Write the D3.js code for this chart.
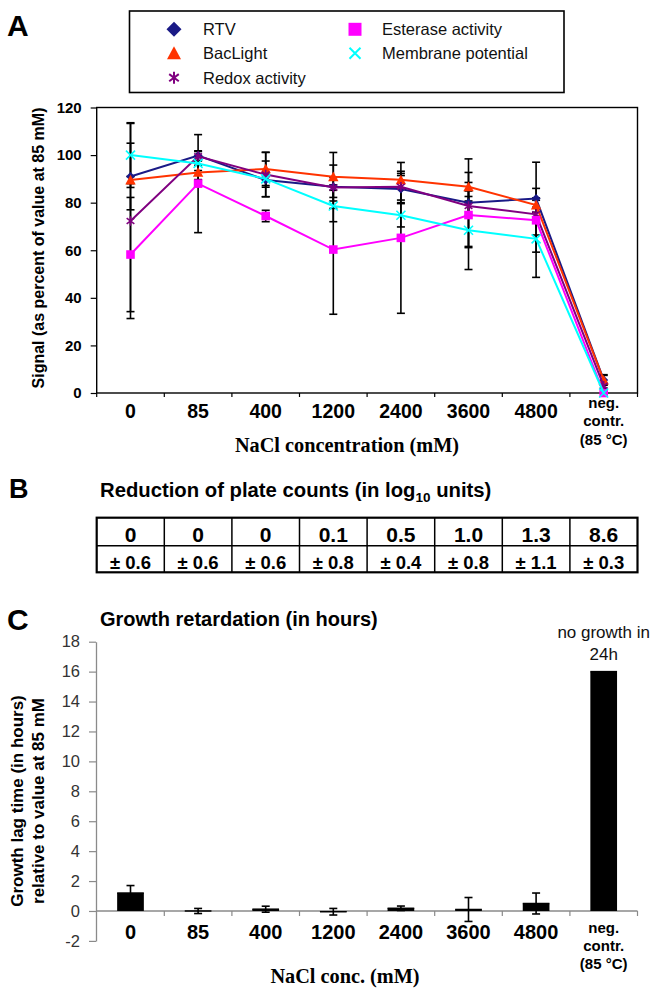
<!DOCTYPE html>
<html><head><meta charset="utf-8">
<script src="https://cdn.jsdelivr.net/npm/d3@7"></script>
<style>
body{margin:0;background:#fff;}
svg{display:block;font-family:"Liberation Sans",Arial,Helvetica,sans-serif;}
</style></head><body>
<svg id="c" width="651" height="990"></svg>
<script>
// ---------- DATA ----------
const categories = ["0","85","400","1200","2400","3600","4800","neg"];
const negLabel = ["neg.","contr.","(85 °C)"];
const seriesNames = ["RTV","BacLight","Redox activity","Esterase activity","Membrane potential"];
const rtv       = [91, 99.8, 89.5, 86.7, 85.7, 80, 81.7, 5.5];
const bacLight  = [89.5, 92.7, 94.2, 90.9, 89.6, 86.7, 79, 5.4];
const redox     = [72.3, 99.5, 91.8, 86.4, 86.7, 78.6, 75.1, 3];
const esterase  = [58.2, 88, 74.4, 60.3, 65.2, 74.8, 72.6, 0];
const membrane  = [100, 96.5, 90, 78.6, 74.7, 68.4, 64.8, 0];
const rtvErr      = [14, 2, 3, 9.1, 5.7, 18.4, 15.3, 2.2];
const bacLightErr = [1.5, 3, 7, 10.2, 3.6, 6, 3, 2];
const redoxErr    = [41, 2, 9.3, 4.2, 5.6, 4, 3, 1];
const esteraseErr = [24, 20.6, 2.4, 27.2, 31.7, 13.7, 13.4, 0];
const membraneErr = [13.6, 3, 7.5, 6.6, 4.9, 16.5, 16.2, 0];
const yTicksA = [0, 20, 40, 60, 80, 100, 120];

const plateMean = ["0","0","0","0.1","0.5","1.0","1.3","8.6"];
const plateSD   = ["0.6","0.6","0.6","0.8","0.4","0.8","1.1","0.3"];

const lagTime = [1.2, 0, 0.12, -0.05, 0.18, 0.1, 0.5, 16];
const lagErr  = [0.5, 0.17, 0.2, 0.22, 0.15, 0.8, 0.7, 0];
const yTicksC = [-2, 0, 2, 4, 6, 8, 10, 12, 14, 16, 18];

// ---------- STYLE ----------
const seriesValues = [rtv, bacLight, redox, esterase, membrane];
const seriesErrors = [rtvErr, bacLightErr, redoxErr, esteraseErr, membraneErr];
const seriesColors = ["#1a1a86", "#FF3300", "#800080", "#FF00FF", "#00FFFF"];
const seriesMarkers = ["diamond", "triangle", "asterisk", "square", "x"];

function markerPath(type, s) {
  switch (type) {
    case "diamond": return `M0,${-s}L${s},0L0,${s}L${-s},0Z`;
    case "triangle": return `M0,${-s}L${s},${s*0.85}L${-s},${s*0.85}Z`;
    case "square": return `M${-s},${-s}h${2*s}v${2*s}h${-2*s}Z`;
    case "x": return `M${-s},${-s}L${s},${s}M${-s},${s}L${s},${-s}`;
    case "asterisk": return `M${-s*0.8},${-s*0.6}L${s*0.8},${s*0.6}M${-s*0.8},${s*0.6}L${s*0.8},${-s*0.6}M0,${-s}L0,${s}`;
  }
}
const strokeMarker = t => t === "x" || t === "asterisk";

const svg = d3.select("#c");
const sans = '"Liberation Sans",Arial,Helvetica,sans-serif';
const serif = '"Liberation Serif","Times New Roman",serif';

// ---------- PANEL A ----------
const x = d3.scaleBand().domain(categories).range([96.7, 637.5]).padding(0);
const cx = c => x(c) + x.bandwidth() / 2;
const yA = d3.scaleLinear().domain([0, 120]).range([393, 107.5]);

svg.append("text").attr("x", 7).attr("y", 36).attr("font-size", 30).attr("font-weight", "bold").text("A");

// legend
const lg = svg.append("g");
lg.append("rect").attr("x", 129.5).attr("y", 11).attr("width", 434.5).attr("height", 81.5)
  .attr("fill", "none").attr("stroke", "#000").attr("stroke-width", 1.6);
const legPos = [[174, 203, 29.3], [174, 203, 53.3], [174, 203, 77.7], [355, 382, 29.3], [355, 382, 53.3]];
const legSize = [7.5, 7, 6, 6.5, 5.5];
seriesNames.forEach((n, i) => {
  const [mx, tx, ty] = legPos[i];
  const t = seriesMarkers[i];
  lg.append("path").attr("d", markerPath(t, legSize[i]))
    .attr("transform", `translate(${mx},${ty})`)
    .attr("fill", strokeMarker(t) ? "none" : seriesColors[i])
    .attr("stroke", strokeMarker(t) ? seriesColors[i] : "none")
    .attr("stroke-width", 2);
  lg.append("text").attr("x", tx).attr("y", ty).attr("dy", "0.36em")
    .attr("font-size", 16.5).attr("fill", "#111").text(n);
});

// frame
svg.append("rect").attr("x", x.range()[0]).attr("y", yA(120)).attr("width", x.range()[1] - x.range()[0])
  .attr("height", yA(0) - yA(120)).attr("fill", "none").attr("stroke", "#000").attr("stroke-width", 1.4);

// y axis
const yAxA = svg.append("g").attr("transform", `translate(${x.range()[0]},0)`)
  .call(d3.axisLeft(yA).tickValues(yTicksA).tickSize(6).tickPadding(9).tickSizeOuter(0));
yAxA.select(".domain").remove();
yAxA.selectAll("line").attr("stroke", "#000").attr("stroke-width", 1.2);
yAxA.selectAll("text").attr("font-size", 15).attr("font-weight", "bold").attr("fill", "#000").attr("font-family", sans);

// x ticks at band boundaries
svg.append("g").selectAll("line").data(categories.concat(["__end"])).join("line")
  .attr("x1", d => d === "__end" ? x.range()[1] : x(d)).attr("x2", d => d === "__end" ? x.range()[1] : x(d))
  .attr("y1", yA(0)).attr("y2", yA(0) + 4).attr("stroke", "#000").attr("stroke-width", 1.2);

// x labels
const xAxA = svg.append("g").attr("transform", `translate(0,${yA(0)})`)
  .call(d3.axisBottom(x).tickSize(0).tickFormat(d => d === "neg" ? "" : d));
xAxA.select(".domain").remove();
xAxA.selectAll("text").attr("y", 25).attr("dy", 0).attr("font-size", 19.5).attr("font-weight", "bold")
  .attr("fill", "#000").attr("font-family", sans);
xAxA.selectAll(".tick").filter(d => d === "neg").append("text")
  .attr("text-anchor", "middle").attr("font-size", 15).attr("font-weight", "bold").attr("font-family", sans)
  .attr("fill", "#000")
  .selectAll("tspan").data(negLabel).join("tspan").attr("x", 0).attr("y", (d, i) => 15 + i * 18.3).text(d => d);

svg.append("text").attr("x", 347).attr("y", 452).attr("text-anchor", "middle")
  .attr("font-family", serif).attr("font-weight", "bold").attr("font-size", 20.3).text("NaCl concentration (mM)");
svg.append("text").attr("transform", "translate(38,248) rotate(-90)").attr("dy", "0.36em")
  .attr("text-anchor", "middle").attr("font-size", 16).attr("font-weight", "bold").text("Signal (as percent of value at 85 mM)");

// error bars
const eg = svg.append("g").attr("stroke", "#000").attr("stroke-width", 1.6);
seriesValues.forEach((vals, s) => {
  vals.forEach((v, i) => {
    const e = seriesErrors[s][i];
    if (!e) return;
    const px = cx(categories[i]);
    eg.append("line").attr("x1", px).attr("x2", px).attr("y1", yA(v - e)).attr("y2", yA(v + e));
    [v - e, v + e].forEach(w => eg.append("line").attr("x1", px - 4).attr("x2", px + 4).attr("y1", yA(w)).attr("y2", yA(w)));
  });
});

// lines and markers
const plotSize = [4.5, 5.2, 4.8, 4.3, 4.5];
const line = d3.line().x((d, i) => cx(categories[i])).y(d => yA(d));
seriesValues.forEach((vals, s) => {
  svg.append("path").datum(vals).attr("d", line).attr("fill", "none")
    .attr("stroke", seriesColors[s]).attr("stroke-width", 2);
  const t = seriesMarkers[s];
  svg.append("g").selectAll("path").data(vals).join("path")
    .attr("d", markerPath(t, plotSize[s]))
    .attr("transform", (d, i) => `translate(${cx(categories[i])},${yA(d)})`)
    .attr("fill", strokeMarker(t) ? "none" : seriesColors[s])
    .attr("stroke", strokeMarker(t) ? seriesColors[s] : "none").attr("stroke-width", 1.6);
});

// ---------- PANEL B ----------
svg.append("text").attr("x", 9).attr("y", 498).attr("font-size", 27).attr("font-weight", "bold").text("B");
const bt = svg.append("text").attr("x", 100).attr("y", 497).attr("font-size", 20.3).attr("font-weight", "bold");
bt.append("tspan").text("Reduction of plate counts (in log");
bt.append("tspan").attr("font-size", 13.5).attr("dy", 5).text("10");
bt.append("tspan").attr("dy", -5).text(" units)");

const rowY = [517.7, 545.7, 572.3];
const tb = svg.append("g");
tb.selectAll("line.v").data(categories.slice(1)).join("line")
  .attr("x1", d => x(d)).attr("x2", d => x(d)).attr("y1", rowY[0]).attr("y2", rowY[2])
  .attr("stroke", "#000").attr("stroke-width", 1.5);
tb.append("line").attr("x1", x.range()[0]).attr("x2", x.range()[1]).attr("y1", rowY[1]).attr("y2", rowY[1])
  .attr("stroke", "#000").attr("stroke-width", 1.5);
tb.append("rect").attr("x", x.range()[0]).attr("y", rowY[0]).attr("width", x.range()[1] - x.range()[0])
  .attr("height", rowY[2] - rowY[0]).attr("fill", "none").attr("stroke", "#000").attr("stroke-width", 2.2);
tb.selectAll("text.m").data(plateMean).join("text")
  .attr("x", (d, i) => cx(categories[i])).attr("y", 541.5).attr("text-anchor", "middle")
  .attr("font-size", 21).attr("font-weight", "bold").text(d => d);
tb.selectAll("text.s").data(plateSD).join("text")
  .attr("x", (d, i) => cx(categories[i])).attr("y", 568.8).attr("text-anchor", "middle")
  .attr("font-size", 18.5).attr("font-weight", "bold").text(d => "± " + d);

// ---------- PANEL C ----------
svg.append("text").attr("x", 7).attr("y", 630).attr("font-size", 30).attr("font-weight", "bold").text("C");
svg.append("text").attr("x", 100).attr("y", 626).attr("font-size", 20).attr("font-weight", "bold").text("Growth retardation (in hours)");

const yC = d3.scaleLinear().domain([-2, 18]).range([940.9, 641.7]);
const yAxC = svg.append("g").attr("transform", `translate(96,0)`)
  .call(d3.axisLeft(yC).tickValues(yTicksC).tickFormat(d => String(d)).tickSize(7).tickPadding(9).tickSizeOuter(0));
yAxC.select(".domain").attr("stroke", "#8a8a8a").attr("stroke-width", 1.3);
yAxC.selectAll("line").attr("stroke", "#8a8a8a").attr("stroke-width", 1.2);
yAxC.selectAll("text").attr("font-size", 16.5).attr("fill", "#333").attr("font-family", sans);

// x axis at zero
svg.append("line").attr("x1", 96).attr("x2", x.range()[1]).attr("y1", yC(0)).attr("y2", yC(0))
  .attr("stroke", "#8a8a8a").attr("stroke-width", 1.3);
svg.append("g").selectAll("line").data(categories.slice(1).concat(["__end"])).join("line")
  .attr("x1", d => d === "__end" ? x.range()[1] : x(d)).attr("x2", d => d === "__end" ? x.range()[1] : x(d))
  .attr("y1", yC(0)).attr("y2", yC(0) + 5).attr("stroke", "#8a8a8a").attr("stroke-width", 1.2);

// bars
const bw = x.bandwidth() * 0.395;
svg.append("g").selectAll("rect").data(lagTime).join("rect")
  .attr("x", (d, i) => cx(categories[i]) - bw / 2).attr("width", bw)
  .attr("y", d => yC(Math.max(d, 0))).attr("height", d => Math.abs(yC(d) - yC(0)))
  .attr("fill", "#000");
const ecg = svg.append("g").attr("stroke", "#000").attr("stroke-width", 1.6);
lagTime.forEach((v, i) => {
  const e = lagErr[i];
  if (!e) return;
  const px = cx(categories[i]);
  ecg.append("line").attr("x1", px).attr("x2", px).attr("y1", yC(v - e)).attr("y2", yC(v + e));
  [v - e, v + e].forEach(w => ecg.append("line").attr("x1", px - 4).attr("x2", px + 4).attr("y1", yC(w)).attr("y2", yC(w)));
});
svg.append("g").selectAll("line").data(lagTime).join("line")
  .attr("x1", (d, i) => cx(categories[i]) - bw / 2).attr("x2", (d, i) => cx(categories[i]) + bw / 2)
  .attr("y1", d => yC(d)).attr("y2", d => yC(d)).attr("stroke", "#000").attr("stroke-width", 1.5);

// annotation
svg.append("text").attr("text-anchor", "middle").attr("font-size", 17).attr("fill", "#111")
  .selectAll("tspan").data(["no growth in", "24h"]).join("tspan")
  .attr("x", cx("neg")).attr("y", (d, i) => 638 + i * 22).text(d => d);

const xAxC = svg.append("g").attr("transform", `translate(0,${yC(0)})`)
  .call(d3.axisBottom(x).tickSize(0).tickFormat(d => d === "neg" ? "" : d));
xAxC.select(".domain").remove();
xAxC.selectAll("text").attr("y", 28.5).attr("dy", 0).attr("font-size", 20).attr("font-weight", "bold")
  .attr("fill", "#000").attr("font-family", sans);
xAxC.selectAll(".tick").filter(d => d === "neg").append("text")
  .attr("text-anchor", "middle").attr("font-size", 15).attr("font-weight", "bold").attr("font-family", sans)
  .attr("fill", "#000")
  .selectAll("tspan").data(negLabel).join("tspan").attr("x", 0).attr("y", (d, i) => 22 + i * 18).text(d => d);

svg.append("text").attr("x", 345).attr("y", 983).attr("text-anchor", "middle")
  .attr("font-family", serif).attr("font-weight", "bold").attr("font-size", 20.3).text("NaCl conc. (mM)");
const yl = svg.append("text").attr("transform", "translate(27,801) rotate(-90)")
  .attr("text-anchor", "middle").attr("font-size", 17).attr("font-weight", "bold");
yl.append("tspan").attr("x", 0).attr("y", -4).text("Growth lag time (in hours)");
yl.append("tspan").attr("x", 0).attr("y", 16.5).text("relative to value at 85 mM");
</script>
</body></html>
